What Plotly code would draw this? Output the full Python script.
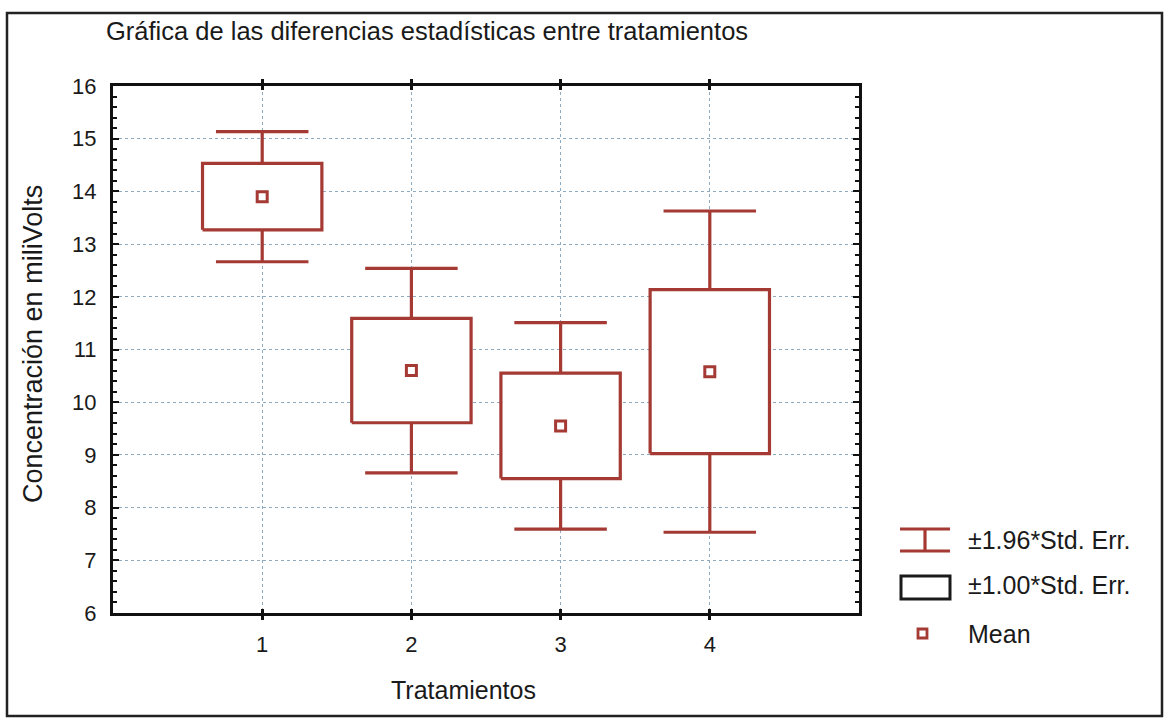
import plotly.graph_objects as go

# Treatment means and standard errors (mV)
treatments = [1, 2, 3, 4]
means = [13.90, 10.60, 9.55, 10.58]
std_err = [0.63, 0.99, 1.00, 1.555]

y_ticks = list(range(6, 17))
x_ticks = [1, 2, 3, 4]

title_text = "Gráfica de las diferencias estadísticas entre tratamientos"
y_title = "Concentración en miliVolts"
x_title = "Tratamientos"
legend_labels = ["±1.96*Std. Err.", "±1.00*Std. Err.", "Mean"]

RED = "#a43a33"
FONT = "Liberation Sans, Arial, sans-serif"
W, H = 1167, 719
L, R, T, B = 113, 859, 86, 613  # plot area in pixels

BOX_HALF = 0.40
CAP_HALF = 0.31


def px(x):
    return (x - L) / (R - L)


def py(y):
    return (B - y) / (B - T)


fig = go.Figure()

# whiskers (±1.96 SE) with caps
wx, wy = [], []
for t, m, s in zip(treatments, means, std_err):
    lo, hi = m - 1.96 * s, m + 1.96 * s
    wx += [t, t, None, t - CAP_HALF, t + CAP_HALF, None, t - CAP_HALF, t + CAP_HALF, None]
    wy += [lo, hi, None, hi, hi, None, lo, lo, None]
fig.add_trace(go.Scatter(x=wx, y=wy, mode="lines", line=dict(color=RED, width=3.2),
                         hoverinfo="skip", showlegend=False))

# boxes (±1 SE), white filled
for t, m, s in zip(treatments, means, std_err):
    lo, hi = m - s, m + s
    fig.add_trace(go.Scatter(
        x=[t - BOX_HALF, t + BOX_HALF, t + BOX_HALF, t - BOX_HALF, t - BOX_HALF],
        y=[lo, lo, hi, hi, lo], mode="lines", fill="toself", fillcolor="white",
        line=dict(color=RED, width=3.2), hoverinfo="skip", showlegend=False))

# means
fig.add_trace(go.Scatter(x=treatments, y=means, mode="markers",
                         marker=dict(symbol="square", size=10, color="white",
                                     line=dict(color=RED, width=3)),
                         showlegend=False))

# invisible trace for the right-hand axis
fig.add_trace(go.Scatter(x=[None], y=[None], yaxis="y2", showlegend=False))

grid = dict(showgrid=True, gridcolor="#8fabc2", griddash="dot", gridwidth=1.4)
tick_font = dict(family=FONT, size=22, color="#1a1a1a")

fig.update_layout(
    width=W, height=H,
    margin=dict(l=L, r=W - R, t=T, b=H - B, pad=0),
    paper_bgcolor="white", plot_bgcolor="white",
    font=dict(family=FONT, size=21, color="#1a1a1a"),
    xaxis=dict(range=[0, 5], tickvals=x_ticks, ticktext=[str(v) for v in x_ticks],
               tickfont=tick_font,
               ticks="inside", ticklen=4, tickwidth=3, tickcolor="#111",
               showline=True, linecolor="#111", linewidth=3, mirror="allticks",
               zeroline=False, ticklabelstandoff=10, **grid),
    yaxis=dict(range=[6, 16], tickvals=y_ticks, ticktext=[str(v) for v in y_ticks],
               tickfont=tick_font,
               ticks="inside", ticklen=6, tickwidth=2, tickcolor="#111",
               minor=dict(dtick=0.2, ticks="inside", ticklen=4, tickwidth=2, tickcolor="#111",
                          showgrid=False),
               showline=True, linecolor="#111", linewidth=3, mirror=True,
               zeroline=False, ticklabelstandoff=9, **grid),
    yaxis2=dict(range=[6, 16], overlaying="y", side="right", showticklabels=False,
                tickvals=y_ticks, ticks="inside", ticklen=6, tickwidth=2, tickcolor="#111",
                minor=dict(dtick=0.2, ticks="inside", ticklen=4, tickwidth=2, tickcolor="#111"),
                showgrid=False, zeroline=False, showline=False),
)

shapes = []
# outer frame of the figure
shapes.append(dict(type="rect", xref="paper", yref="paper",
                   x0=px(7), x1=px(1162), y0=py(716), y1=py(13),
                   line=dict(color="#222", width=2.5), layer="above"))
# legend: error-bar glyph
shapes += [
    dict(type="line", xref="paper", yref="paper", x0=px(900), x1=px(950), y0=py(529), y1=py(529),
         line=dict(color=RED, width=3.2)),
    dict(type="line", xref="paper", yref="paper", x0=px(900), x1=px(950), y0=py(551), y1=py(551),
         line=dict(color=RED, width=3.2)),
    dict(type="line", xref="paper", yref="paper", x0=px(925), x1=px(925), y0=py(529), y1=py(551),
         line=dict(color=RED, width=3.2)),
    # legend: box glyph
    dict(type="rect", xref="paper", yref="paper", x0=px(901), x1=px(950), y0=py(599), y1=py(576),
         line=dict(color="#1a1a1a", width=3)),
    # legend: mean glyph
    dict(type="rect", xref="paper", yref="paper", x0=px(918), x1=px(927), y0=py(638), y1=py(629),
         line=dict(color=RED, width=2.8), fillcolor="white"),
]
fig.update_layout(shapes=shapes)

annotations = [
    dict(text=title_text, x=px(104), y=py(31), xanchor="left", yanchor="middle",
         font=dict(size=25.5)),
    dict(text=y_title, x=px(33), y=py(344), textangle=-90, xanchor="center", yanchor="middle",
         font=dict(size=27)),
    dict(text=x_title, x=px(463), y=py(690), xanchor="center", yanchor="middle",
         font=dict(size=25)),
]
for label, yy in zip(legend_labels, [540, 585, 634]):
    annotations.append(dict(text=label, x=px(966), y=py(yy), xanchor="left", yanchor="middle",
                            font=dict(size=25)))
for a in annotations:
    a.update(xref="paper", yref="paper", showarrow=False)
fig.update_layout(annotations=annotations)

fig.write_html("out.html")
